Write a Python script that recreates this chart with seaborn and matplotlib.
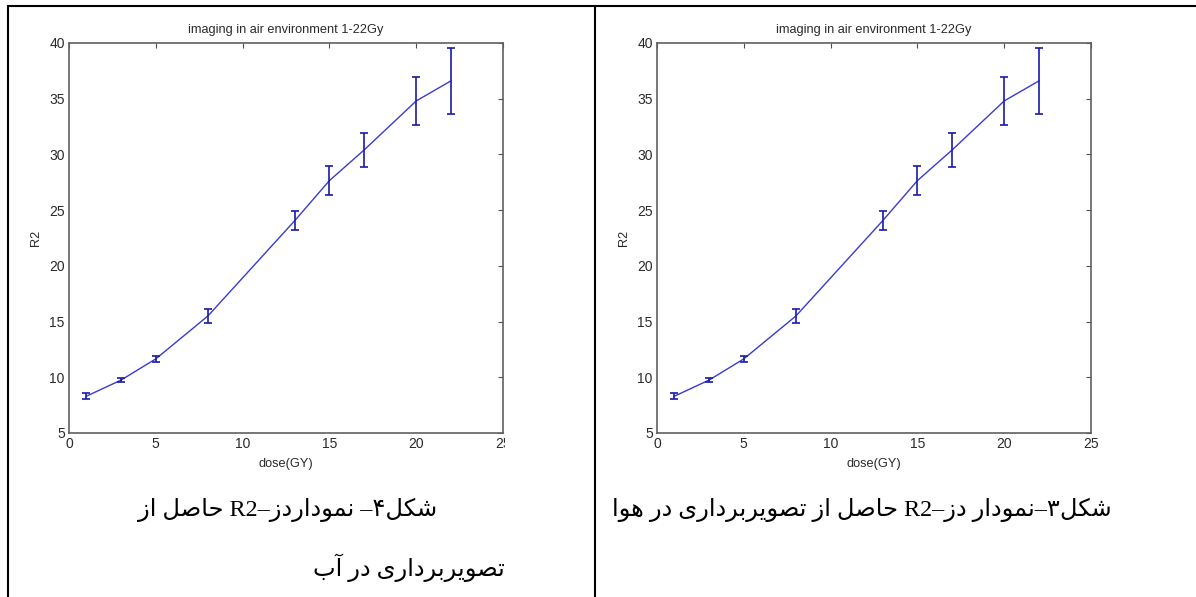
import matplotlib
matplotlib.use("Agg")
import matplotlib.pyplot as plt
from matplotlib.lines import Line2D
from matplotlib.transforms import Bbox
import seaborn as sns
import pandas as pd

# data (both panels show the same curve)
dose = [1, 3, 5, 8, 13, 15, 17, 20, 22]
r2 = [8.3, 9.75, 11.65, 15.5, 24.05, 27.65, 30.4, 34.8, 36.6]
r2_err = [0.25, 0.2, 0.3, 0.65, 0.87, 1.3, 1.55, 2.15, 2.95]

title = "imaging in air environment 1-22Gy"
xlabel = "dose(GY)"
ylabel = "R2"
xticks = [0, 5, 10, 15, 20, 25]
yticks = [5, 10, 15, 20, 25, 30, 35, 40]

caption_left = ["شکل۴– نموداردز–R2 حاصل از", "تصویربرداری در آب"]
caption_right = "شکل۳–نمودار دز–R2 حاصل از تصویربرداری در هوا"

df = pd.DataFrame({"dose": dose, "r2": r2, "err": r2_err})

# minimal Persian shaping + right-to-left ordering (matplotlib does neither)
FORMS = {
    'ا': ('\uFE8D', '\uFE8E', None, None),
    'آ': ('\uFE81', '\uFE82', None, None),
    'ب': ('\uFE8F', '\uFE90', '\uFE91', '\uFE92'),
    'ت': ('\uFE95', '\uFE96', '\uFE97', '\uFE98'),
    'ح': ('\uFEA1', '\uFEA2', '\uFEA3', '\uFEA4'),
    'د': ('\uFEA9', '\uFEAA', None, None),
    'ر': ('\uFEAD', '\uFEAE', None, None),
    'ز': ('\uFEAF', '\uFEB0', None, None),
    'ش': ('\uFEB5', '\uFEB6', '\uFEB7', '\uFEB8'),
    'ص': ('\uFEB9', '\uFEBA', '\uFEBB', '\uFEBC'),
    'ل': ('\uFEDD', '\uFEDE', '\uFEDF', '\uFEE0'),
    'م': ('\uFEE1', '\uFEE2', '\uFEE3', '\uFEE4'),
    'ن': ('\uFEE5', '\uFEE6', '\uFEE7', '\uFEE8'),
    'ه': ('\uFEE9', '\uFEEA', '\uFEEB', '\uFEEC'),
    'و': ('\uFEED', '\uFEEE', None, None),
    'ک': ('\uFB8E', '\uFB8F', '\uFB90', '\uFB91'),
    'ی': ('\uFBFC', '\uFBFD', '\uFBFE', '\uFBFF'),
}


def rtl(text):
    shaped = []
    for i, c in enumerate(text):
        if c not in FORMS:
            shaped.append(c)
            continue
        iso, fin, ini, med = FORMS[c]
        prev = text[i - 1] if i > 0 else ''
        nxt = text[i + 1] if i + 1 < len(text) else ''
        jp = prev in FORMS and FORMS[prev][2] is not None
        jn = ini is not None and nxt in FORMS
        if jp and jn:
            shaped.append(med)
        elif jp:
            shaped.append(fin)
        elif jn:
            shaped.append(ini)
        else:
            shaped.append(iso)
    # keep latin runs (R2) left-to-right, reverse everything else
    tokens = []
    for c in shaped:
        if c.isascii() and c.isalnum() and tokens and tokens[-1].isascii() and tokens[-1].isalnum():
            tokens[-1] += c
        else:
            tokens.append(c)
    return "".join(reversed(tokens))


sns.set_style("white")
plt.rcParams['font.family'] = ['Liberation Sans', 'DejaVu Sans']

W, H = 1196, 597
fig = plt.figure(figsize=(W / 100, H / 100), dpi=100)

line_col = "#3a3ad0"
bar_col = "#1a1aa8"
txt_col = "#2a2a2a"

panels = [69, 657]
for left in panels:
    ax = fig.add_axes([left / W, (H - 433) / H, 434 / W, 390 / H])
    sns.lineplot(data=df, x="dose", y="r2", ax=ax, color=line_col, linewidth=1.0)
    ax.errorbar(df["dose"], df["r2"], yerr=df["err"], fmt="none",
                ecolor=bar_col, elinewidth=1.2, capsize=3, capthick=1.2)
    ax.set_xlim(0, 25)
    ax.set_ylim(5, 40)
    ax.set_xticks(xticks)
    ax.set_yticks(yticks)
    ax.tick_params(direction="in", length=3.5, width=0.8, color="#505050",
                   top=True, right=True, labelsize=10, labelcolor=txt_col, pad=3)
    for s in ax.spines.values():
        s.set_color("#606060")
        s.set_linewidth(1.2)
    ax.set_title(title, fontsize=9.2, color=txt_col, pad=7)
    ax.set_xlabel(xlabel, fontsize=9.2, color=txt_col, labelpad=5)
    ax.set_ylabel(ylabel, fontsize=9.2, color=txt_col, labelpad=5)
    ax.grid(False)
    if left == panels[0]:
        # the left screenshot is cropped right through the "25" label
        fig.canvas.draw()
        lab = ax.get_xticklabels()[-1]
        lab.set_clip_box(Bbox([[0, 0], [505, H]]))
        lab.set_clip_on(True)

# table borders
blk = dict(color="black", linewidth=1.5, transform=fig.transFigure)
fig.add_artist(Line2D([8.3 / W, 1.0], [1 - 5.7 / H] * 2, **blk))
fig.add_artist(Line2D([8.3 / W] * 2, [0, 1 - 5.7 / H], **blk))
fig.add_artist(Line2D([594.7 / W] * 2, [0, 1 - 5.7 / H], **blk))

cap = dict(family=['Liberation Serif', 'DejaVu Sans'], fontsize=17.4, color="black", va="center")
fig.text(288 / W, 1 - 510 / H, rtl(caption_left[0]), ha="center", **cap)
fig.text(505 / W, 1 - 568 / H, rtl(caption_left[1]), ha="right", **cap)
fig.text(862 / W, 1 - 510 / H, rtl(caption_right), ha="center", **cap)

fig.savefig("out.png", dpi=100)
